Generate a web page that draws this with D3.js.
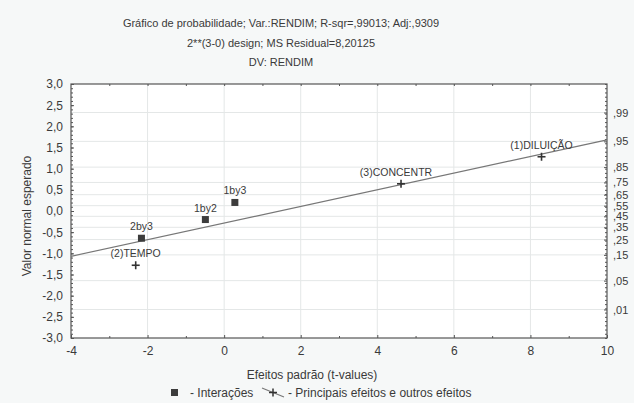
<!DOCTYPE html>
<html>
<head>
<meta charset="utf-8">
<script src="https://cdn.jsdelivr.net/npm/d3@7"></script>
<style>
html,body{margin:0;padding:0;background:#f6f8f8;}
svg{display:block;font-family:"Liberation Sans",Arial,sans-serif;}
</style>
</head>
<body>
<svg id="chart" width="634" height="403"></svg>
<script>
// ---- data ----
const titleLines = ["Gráfico de probabilidade; Var.:RENDIM; R-sqr=,99013; Adj:,9309",
                    "2**(3-0) design; MS Residual=8,20125",
                    "DV: RENDIM"];
const effectNames = ["(2)TEMPO", "2by3", "1by2", "1by3", "(3)CONCENTR", "(1)DILUIÇÃO"];
const effectT      = [-2.31, -2.16, -0.49, 0.28, 4.62, 8.29];
const expectedZ    = [-1.2816, -0.643, -0.202, 0.202, 0.643, 1.2816];
const effectType   = ["main", "inter", "inter", "inter", "main", "main"];
const fitLineX = [-4, 10];
const fitLineY = [-1.07, 1.68];
const xTicks = [-4, -2, 0, 2, 4, 6, 8, 10];
const yTicks = [3, 2.5, 2, 1.5, 1, 0.5, 0, -0.5, -1, -1.5, -2, -2.5, -3];
const probTicks = [0.99, 0.95, 0.85, 0.75, 0.65, 0.55, 0.45, 0.35, 0.25, 0.15, 0.05, 0.01];
const xLabel = "Efeitos padrão (t-values)";
const yLabel = "Valor normal esperado";
const legendLabels = ["- Interações", "- Principais efeitos e outros efeitos"];

// ---- layout ----
const svg = d3.select("#chart");
const L = 71, R = 607, T = 84, B = 338;
const x = d3.scaleLinear().domain([-4, 10]).range([L, R]);
const y = d3.scaleLinear().domain([-3, 3]).range([B, T]);
const txt = "#3a3a3a";
const fmt1 = v => d3.format(".1f")(v).replace(".", ",").replace("−", "-");
const fmtP = v => d3.format(".2f")(v).replace("0.", ",");

function normInv(p) {
  // Acklam's approximation for the inverse normal CDF
  const a = [-3.969683028665376e+01, 2.209460984245205e+02, -2.759285104469687e+02, 1.383577518672690e+02, -3.066479806614716e+01, 2.506628277459239e+00];
  const b = [-5.447609879822406e+01, 1.615858368580409e+02, -1.556989798598866e+02, 6.680131188771972e+01, -1.328068155288572e+01];
  const c = [-7.784894002430293e-03, -3.223964580411365e-01, -2.400758277161838e+00, -2.549732539343734e+00, 4.374664141464968e+00, 2.938163982698783e+00];
  const dd = [7.784695709041462e-03, 3.224671290700398e-01, 2.445134137142996e+00, 3.754408661907416e+00];
  const pl = 0.02425;
  let q, r;
  if (p < pl) { q = Math.sqrt(-2 * Math.log(p));
    return (((((c[0]*q+c[1])*q+c[2])*q+c[3])*q+c[4])*q+c[5]) / ((((dd[0]*q+dd[1])*q+dd[2])*q+dd[3])*q+1); }
  if (p <= 1 - pl) { q = p - 0.5; r = q*q;
    return (((((a[0]*r+a[1])*r+a[2])*r+a[3])*r+a[4])*r+a[5])*q / (((((b[0]*r+b[1])*r+b[2])*r+b[3])*r+b[4])*r+1); }
  q = Math.sqrt(-2 * Math.log(1 - p));
  return -(((((c[0]*q+c[1])*q+c[2])*q+c[3])*q+c[4])*q+c[5]) / ((((dd[0]*q+dd[1])*q+dd[2])*q+dd[3])*q+1);
}

// plot background
svg.append("rect").attr("x", L).attr("y", T).attr("width", R - L).attr("height", B - T)
  .attr("fill", "#ffffff");

// grid: vertical at x ticks, horizontal at probability positions
svg.append("g").selectAll("line").data(xTicks.slice(1, -1)).join("line")
  .attr("x1", d => x(d)).attr("x2", d => x(d)).attr("y1", T).attr("y2", B)
  .attr("stroke", "#e4e7e7").attr("stroke-width", 1);
svg.append("g").selectAll("line").data(probTicks).join("line")
  .attr("x1", L).attr("x2", R).attr("y1", d => y(normInv(d))).attr("y2", d => y(normInv(d)))
  .attr("stroke", "#e4e7e7").attr("stroke-width", 1);

// axes (ticks drawn inward)
const axStyle = (fs) => g => {
  g.select(".domain").remove();
  g.selectAll(".tick line").attr("stroke", "#555");
  g.selectAll(".tick text").attr("fill", txt).attr("font-size", fs)
   .attr("font-family", "'Liberation Sans',Arial,sans-serif");
};
// bottom
svg.append("g").attr("transform", `translate(0,${B})`)
  .call(d3.axisBottom(x).tickValues(xTicks).tickSize(-3).tickPadding(8).tickFormat(d => String(d)))
  .call(axStyle(12));
svg.append("g").attr("transform", `translate(0,${B})`)
  .call(d3.axisBottom(x).tickValues(d3.range(-3, 10, 2)).tickSize(-2).tickFormat(""))
  .call(axStyle(12));
// top
svg.append("g").attr("transform", `translate(0,${T})`)
  .call(d3.axisTop(x).tickValues(d3.range(-3, 10, 1)).tickSize(-2).tickFormat(""))
  .call(axStyle(12));
// left
svg.append("g").attr("transform", `translate(${L},0)`)
  .call(d3.axisLeft(y).tickValues(yTicks).tickSize(-3).tickPadding(8).tickFormat(fmt1))
  .call(axStyle(12));
svg.append("g").attr("transform", `translate(${L},0)`)
  .call(d3.axisLeft(y).tickValues(d3.range(-30, 31, 1).map(v => v / 10)).tickSize(-2).tickFormat(""))
  .call(axStyle(12));
// right (probabilities)
svg.append("g").attr("transform", `translate(${R},0)`)
  .call(d3.axisRight(y).tickValues(probTicks.map(normInv)).tickSize(-3).tickPadding(6)
        .tickFormat((d, i) => fmtP(probTicks[i])))
  .call(axStyle(11));
svg.append("g").attr("transform", `translate(${R},0)`)
  .call(d3.axisRight(y).tickValues(d3.range(-30, 31, 1).map(v => v / 10)).tickSize(-2).tickFormat(""))
  .call(axStyle(11));

// frame
svg.append("rect").attr("x", L).attr("y", T).attr("width", R - L).attr("height", B - T)
  .attr("fill", "none").attr("stroke", "#555").attr("stroke-width", 1.2);

// fit line
svg.append("line")
  .attr("x1", x(fitLineX[0])).attr("y1", y(fitLineY[0]))
  .attr("x2", x(fitLineX[1])).attr("y2", y(fitLineY[1]))
  .attr("stroke", "#777").attr("stroke-width", 1.2);

// points
const pts = effectNames.map((n, i) => ({n, t: effectT[i], z: expectedZ[i], type: effectType[i]}));
const g = svg.append("g");
g.selectAll("rect.sq").data(pts.filter(d => d.type === "inter")).join("rect")
  .attr("x", d => x(d.t) - 3.5).attr("y", d => y(d.z) - 3.5).attr("width", 7).attr("height", 7)
  .attr("fill", "#3c3c3c");
const plus = g.selectAll("g.pl").data(pts.filter(d => d.type === "main")).join("g")
  .attr("transform", d => `translate(${x(d.t)},${y(d.z)})`);
plus.append("line").attr("x1", -4).attr("x2", 4).attr("stroke", "#333").attr("stroke-width", 1.6);
plus.append("line").attr("y1", -4).attr("y2", 4).attr("stroke", "#333").attr("stroke-width", 1.6);
g.selectAll("text").data(pts).join("text")
  .attr("x", d => x(d.t) + (d.n === "(3)CONCENTR" ? -5 : 0))
  .attr("y", d => y(d.z) - 8)
  .attr("text-anchor", "middle").attr("font-size", 10.5).attr("fill", txt)
  .text(d => d.n);

// titles
svg.append("g").selectAll("text").data(titleLines).join("text")
  .attr("x", 281).attr("y", (d, i) => 27 + i * 19.5)
  .attr("text-anchor", "middle").attr("font-size", 11).attr("fill", txt)
  .text(d => d);

// axis labels
svg.append("text").attr("x", 312).attr("y", 379).attr("text-anchor", "middle")
  .attr("font-size", 12).attr("fill", txt).text(xLabel);
svg.append("text").attr("transform", "translate(31,216) rotate(-90)").attr("text-anchor", "middle")
  .attr("font-size", 12).attr("fill", txt).text(yLabel);

// legend
const lg = svg.append("g");
lg.append("rect").attr("x", 171).attr("y", 389).attr("width", 7).attr("height", 7).attr("fill", "#3c3c3c");
lg.append("text").attr("x", 190).attr("y", 397).attr("font-size", 12).attr("fill", txt).text(legendLabels[0]);
lg.append("line").attr("x1", 262).attr("y1", 388).attr("x2", 284).attr("y2", 397).attr("stroke", "#777").attr("stroke-width", 1.1);
lg.append("line").attr("x1", 269).attr("y1", 392.5).attr("x2", 277).attr("y2", 392.5).attr("stroke", "#333").attr("stroke-width", 1.5);
lg.append("line").attr("x1", 273).attr("y1", 388.5).attr("x2", 273).attr("y2", 396.5).attr("stroke", "#333").attr("stroke-width", 1.5);
lg.append("text").attr("x", 288).attr("y", 397).attr("font-size", 12).attr("fill", txt).text(legendLabels[1]);
</script>
</body>
</html>
